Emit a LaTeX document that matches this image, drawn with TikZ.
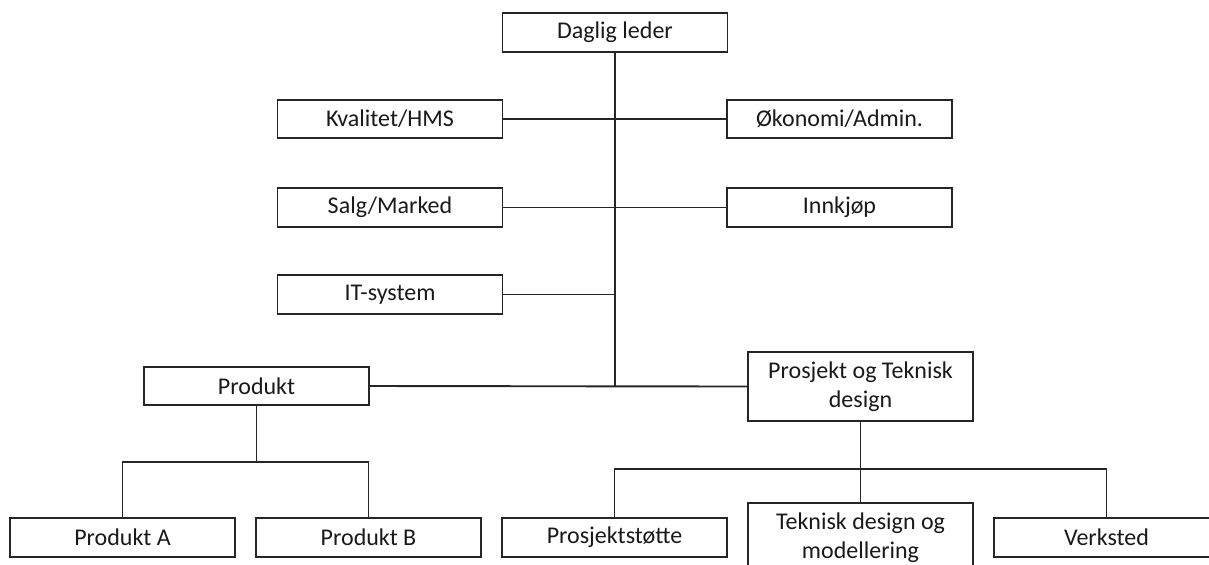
\documentclass[tikz,border=0pt]{standalone}
\usepackage{fontspec}
\setmainfont{Carlito}
\begin{document}
\begin{tikzpicture}[x=0.5pt,y=-0.5pt,
  unit/.style={draw=black!85,line width=0.95pt,rectangle,inner sep=0pt,
    minimum width=112.5pt,minimum height=19.25pt,
    font=\fontsize{12}{14.5}\selectfont,text=black!90},
  tall/.style={unit,minimum height=34.5pt,align=center},
  link/.style={draw=black!85,line width=0.95pt}]
\useasboundingbox (0,0) rectangle (1209,564);
% top management and staff functions
\node[unit] (dl) at (615,32.5) {Daglig leder};
\node[unit] (kv) at (390,119) {Kvalitet/HMS};
\node[unit] (ok) at (839.5,119) {Økonomi/Admin.};
\node[unit] (sm) at (390,207.5) {Salg/Marked};
\node[unit] (ik) at (839.5,207.5) {Innkjøp};
\node[unit] (it) at (390,294.5) {IT-system};
% line departments
\node[unit] (pd) at (256.5,386) {Produkt};
\node[tall] (pt) at (860.5,386.5) {Prosjekt og Teknisk\\design};
% sub-units
\node[unit] (pa) at (122.5,537.5) {Produkt A};
\node[unit] (pb) at (368.5,537.5) {Produkt B};
\node[unit] (ps) at (614.5,537.5) {Prosjektstøtte};
\node[tall] (tm) at (860.5,537.5) {Teknisk design og\\modellering};
\node[unit] (vk) at (1106.5,537.5) {Verksted};
% bus points
\coordinate (hub) at (615,386);
\coordinate (pbus) at (256.5,462);
\coordinate (tbus) at (860.5,469);
% connectors
\draw[link] (dl.south) -- (hub);
\draw[link] (kv.east) -- (ok.west);
\draw[link] (sm.east) -- (ik.west);
\draw[link] (it.east) -- (it.east -| hub);
\draw[link] (pd.east) -- (pt.west);
\draw[link] (pd.south) -- (pbus);
\draw[link] (pa.north) |- (pbus) -| (pb.north);
\draw[link] (pt.south) -- (tm.north);
\draw[link] (ps.north) |- (tbus) -| (vk.north);
\end{tikzpicture}
\end{document}
